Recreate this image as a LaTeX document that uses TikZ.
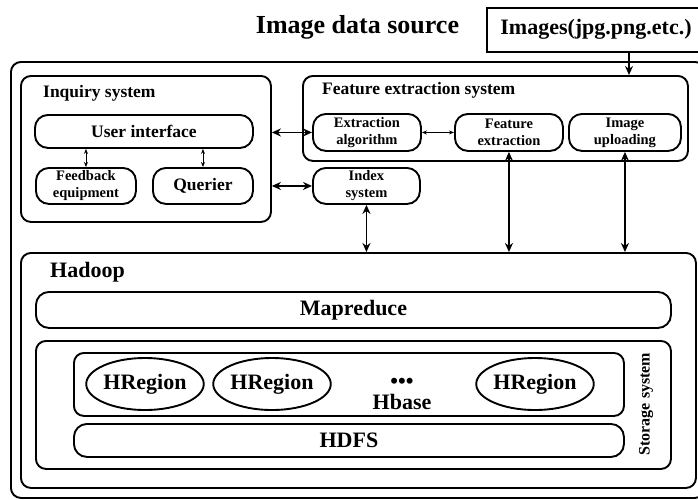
\documentclass[tikz,border=0pt]{standalone}
\usepackage{fontspec}
\setmainfont{Liberation Serif}
\usetikzlibrary{arrows.meta,shapes.geometric}
\begin{document}
\begin{tikzpicture}[x=1pt,y=-1pt,
  box/.style={draw,line width=1.9pt,rounded corners=10pt,anchor=north west,inner sep=0pt,font=\bfseries},
  rbox/.style={draw,line width=1.9pt,rounded corners=13pt,anchor=north west,inner sep=0pt,align=center,font=\bfseries},
  ell/.style={draw,ellipse,line width=1.9pt,inner sep=0pt,minimum width=114pt,minimum height=52pt,font=\bfseries\fontsize{22}{24}\selectfont},
  lbl/.style={anchor=west,inner sep=0pt,font=\bfseries},
  big/.style={line width=1.9pt,{Stealth[length=9pt,width=8pt]}-{Stealth[length=9pt,width=8pt]}},
  small/.style={line width=0.8pt,{Stealth[length=5pt,width=4pt]}-{Stealth[length=5pt,width=4pt]}},
  one/.style={line width=1.9pt,-{Stealth[length=9pt,width=8pt]}}
]
\useasboundingbox (0,0) rectangle (698,499);
\clip (0,0) rectangle (698,499);
% title
\node[inner sep=0pt,font=\bfseries\fontsize{26}{28}\selectfont] (title) at (357.5,27) {Image data source};
\node[draw,line width=1.9pt,anchor=north west,minimum width=216pt,minimum height=44pt,inner sep=0pt] (img) at (486,7) {};
\node[inner sep=0pt,font=\bfseries\fontsize{22}{24}\selectfont] (imgt) at (596,29) {Images(jpg.png.etc.)};
% outer
\node[box,minimum width=694pt,minimum height=436pt] (outer) at (10,61) {};
% inquiry system
\node[box,minimum width=250pt,minimum height=146pt] (inq) at (20,75) {};
\node[lbl,font=\bfseries\fontsize{17.5}{19}\selectfont] (inqt) at (43,93) {Inquiry system};
\node[rbox,minimum width=218pt,minimum height=33pt,font=\bfseries\fontsize{17.5}{19}\selectfont] (ui) at (34,114) {User interface};
\node[rbox,minimum width=100pt,minimum height=36pt,font=\bfseries\fontsize{14.5}{17}\selectfont] (fb) at (35,167) {Feedback\\equipment};
\node[rbox,minimum width=100pt,minimum height=36pt,font=\bfseries\fontsize{17.5}{19}\selectfont] (qr) at (152,167) {Querier};
% feature extraction system
\node[box,minimum width=385pt,minimum height=85pt] (fes) at (302,75) {};
\node[lbl,font=\bfseries\fontsize{17.5}{19}\selectfont] (fest) at (322,90) {Feature extraction system};
\node[rbox,minimum width=108pt,minimum height=37pt,font=\bfseries\fontsize{14.5}{17}\selectfont] (ea) at (312,113) {Extraction\\algorithm};
\node[rbox,minimum width=108pt,minimum height=37pt,font=\bfseries\fontsize{14.5}{17}\selectfont] (fe) at (454,113) {Feature\\extraction};
\node[rbox,minimum width=112pt,minimum height=37pt,font=\bfseries\fontsize{14.5}{17}\selectfont] (iu) at (568,113) {Image\\uploading};
\node[rbox,minimum width=107pt,minimum height=36pt,font=\bfseries\fontsize{14.5}{17}\selectfont] (idx) at (312,167) {Index\\system};
% hadoop
\node[box,minimum width=675pt,minimum height=235pt] (had) at (20,252) {};
\node[lbl,font=\bfseries\fontsize{22}{24}\selectfont] (hadt) at (50,272) {Hadoop};
\node[rbox,minimum width=635pt,minimum height=36pt,font=\bfseries\fontsize{22}{24}\selectfont] (mr) at (35,291) {Mapreduce};
\node[box,minimum width=635pt,minimum height=128pt] (stor) at (35,340) {};
\node[inner sep=0pt,rotate=90,font=\bfseries\fontsize{16}{18}\selectfont] (stort) at (646,404) {Storage system};
\node[box,minimum width=550pt,minimum height=63pt] (hb) at (73,352) {};
\node[rbox,minimum width=550pt,minimum height=33pt,font=\bfseries\fontsize{22}{24}\selectfont] (hdfs) at (73,423) {HDFS};
\node[ell] (hr1) at (145,384) {HRegion};
\node[ell] (hr2) at (272,384) {HRegion};
\node[ell] (hr3) at (535,384) {HRegion};
\node[inner sep=0pt,font=\bfseries\fontsize{22}{24}\selectfont] (dots) at (402,383) {•••};
\node[inner sep=0pt,font=\bfseries\fontsize{22}{24}\selectfont] (hbt) at (402,402) {Hbase};
% connectors
\draw[one] (img.south -| 629,0) -- (fes.north -| 629,0);
\draw[big] (inq.east |- ea.west) -- (ea.west);
\draw[big] (inq.east |- idx.west) -- (idx.west);
\draw[small] (ui.south -| fb.north) -- (fb.north);
\draw[small] (ui.south -| qr.north) -- (qr.north);
\draw[small] (ea.east) -- (fe.west);
\draw[big] (idx.south) -- (had.north -| idx.south);
\draw[big] (fe.south) -- (had.north -| fe.south);
\draw[big] (iu.south) -- (had.north -| iu.south);
\end{tikzpicture}
\end{document}
